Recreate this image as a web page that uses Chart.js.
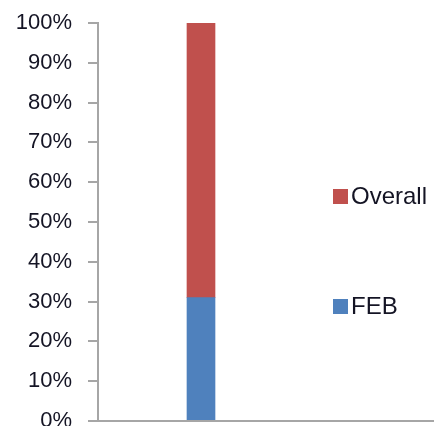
<!DOCTYPE html>
<html>
<head>
<meta charset="utf-8">
<script src="https://cdn.jsdelivr.net/npm/chart.js@4/dist/chart.umd.min.js"></script>
<style>
  html, body { margin: 0; padding: 0; background: #fff; }
  #wrap { width: 434px; height: 426px; }
</style>
</head>
<body>
<div id="wrap"><canvas id="chart" width="434" height="426"></canvas></div>
<script>
// ********************* data ***********************
const categories = [''];
const febValues = [31];
const overallValues = [69];
const yTicks = [0, 10, 20, 30, 40, 50, 60, 70, 80, 90, 100];

const axisGrey = '#a6a6a6';
const textColor = '#141424';

// excel-ish legend on the right, drawn from the datasets
const sideLegend = {
  id: 'sideLegend',
  afterDraw(chart) {
    const ctx = chart.ctx;
    const rows = [
      { ds: chart.data.datasets[1], y: 196 },
      { ds: chart.data.datasets[0], y: 306 },
    ];
    ctx.save();
    ctx.font = '24px "Liberation Sans", Arial, sans-serif';
    ctx.textBaseline = 'middle';
    rows.forEach(r => {
      ctx.fillStyle = r.ds.backgroundColor;
      ctx.fillRect(333, r.y - 7, 15, 15);
      ctx.fillStyle = textColor;
      ctx.fillText(r.ds.label, 351, r.y + 1);
    });
    ctx.restore();
  }
};

// bottom axis runs past the plot to the edge
const bottomLine = {
  id: 'bottomLine',
  afterDraw(chart) {
    const ctx = chart.ctx;
    const y = chart.chartArea.bottom;
    ctx.save();
    ctx.strokeStyle = axisGrey;
    ctx.lineWidth = 2;
    ctx.beginPath();
    ctx.moveTo(chart.chartArea.left - 10, y);
    ctx.lineTo(chart.width, y);
    ctx.stroke();
    ctx.restore();
  }
};

const data = {
  labels: categories,
  datasets: [{
    label: 'FEB',
    backgroundColor: '#4f81bd',
    data: febValues,
    barThickness: 28,
  }, {
    label: 'Overall',
    backgroundColor: '#c0504d',
    data: overallValues,
    barThickness: 28,
  }]
};

const config = {
  type: 'bar',
  data: data,
  plugins: [sideLegend, bottomLine],
  options: {
    responsive: false,
    animation: false,
    layout: { padding: { top: 23, right: 130, bottom: 5, left: 0 } },
    plugins: {
      legend: { display: false },
      tooltip: { enabled: false },
    },
    scales: {
      x: {
        stacked: true,
        ticks: { display: false },
        grid: { display: false },
        border: { display: false },
        afterFit(scale) { scale.height = 0; },
      },
      y: {
        stacked: true,
        min: 0,
        max: 100,
        afterBuildTicks(scale) {
          scale.ticks = yTicks.map(v => ({ value: v }));
        },
        afterFit(scale) {
          scale.width = 98;
          scale.paddingTop = 0;
          scale.paddingBottom = 0;
        },
        ticks: {
          padding: 16,
          color: textColor,
          font: { family: '"Liberation Sans", Arial, sans-serif', size: 22 },
          callback: v => v + '%',
        },
        grid: {
          drawOnChartArea: false,
          drawTicks: true,
          tickLength: 10,
          color: axisGrey,
          lineWidth: 2,
        },
        border: { display: true, color: axisGrey, width: 2 },
      }
    }
  }
};

const chart = new Chart(document.getElementById('chart'), config);
</script>
</body>
</html>
